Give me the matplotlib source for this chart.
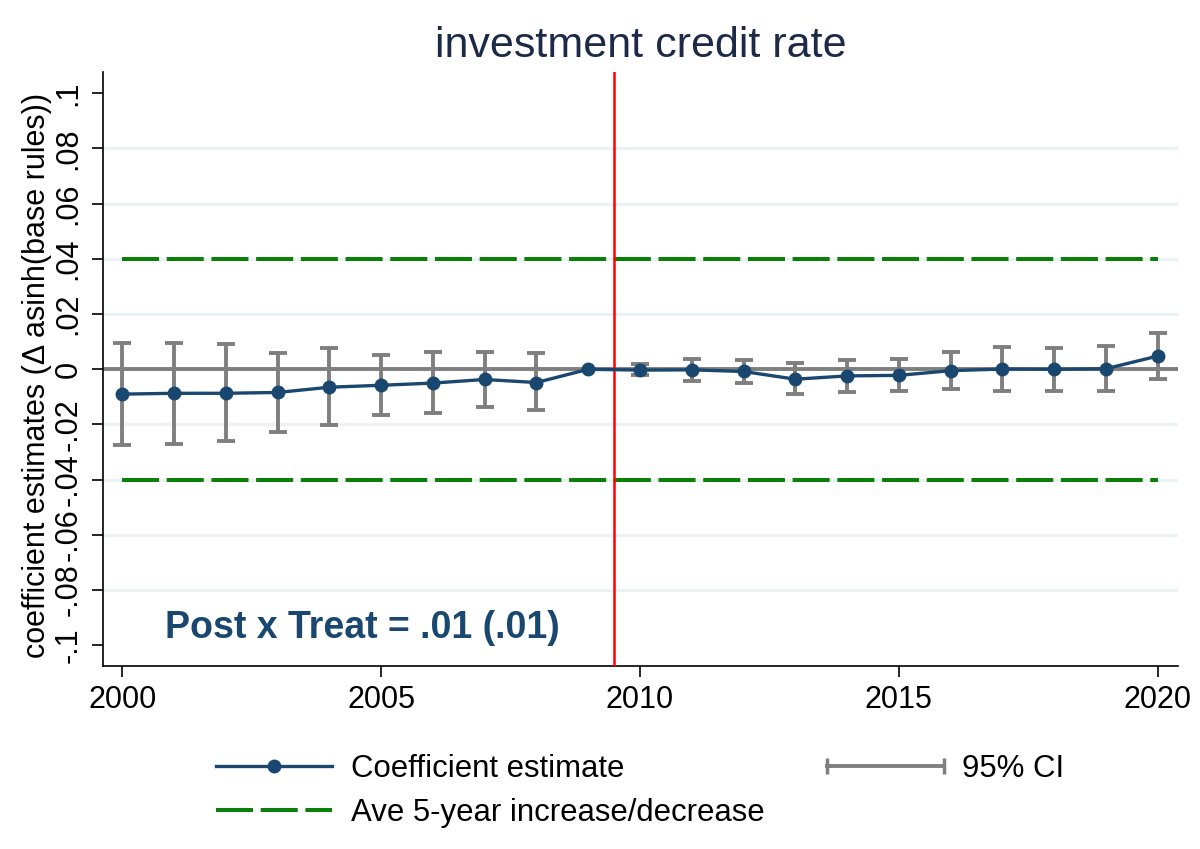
import matplotlib
matplotlib.use('Agg')
import matplotlib.pyplot as plt
from matplotlib.lines import Line2D
from matplotlib.legend_handler import HandlerLine2D
import numpy as np

plt.rcParams['font.family'] = ['Liberation Sans', 'DejaVu Sans']

years = np.arange(2000, 2021)
coef = np.array([-0.0090, -0.0087, -0.0087, -0.0084, -0.0065, -0.0058, -0.0050,
                 -0.0037, -0.0048, 0.0000, -0.0003, -0.0002, -0.0008, -0.0036,
                 -0.0024, -0.0022, -0.0005, 0.0001, 0.0000, 0.0002, 0.0048])
ci_lo = np.array([-0.0273, -0.0269, -0.0260, -0.0226, -0.0203, -0.0166, -0.0158,
                  -0.0136, -0.0148, np.nan, -0.0022, -0.0042, -0.0050, -0.0091,
                  -0.0084, -0.0079, -0.0071, -0.0079, -0.0079, -0.0079, -0.0036])
ci_hi = np.array([0.0096, 0.0096, 0.0092, 0.0060, 0.0076, 0.0052, 0.0062,
                  0.0062, 0.0058, np.nan, 0.0018, 0.0039, 0.0033, 0.0024,
                  0.0035, 0.0037, 0.0062, 0.0080, 0.0078, 0.0086, 0.0133])
band = 0.04          # ave 5-year increase/decrease
treat_year = 2009.5  # policy line
yticks = np.round(np.arange(-0.1, 0.1001, 0.02), 2)
xticks = [2000, 2005, 2010, 2015, 2020]

navy = '#1a476f'
gray = '#7f7f7f'
green = '#0a7f0a'
grid_c = '#eaf2f3'

fig = plt.figure(figsize=(12, 8.49), dpi=100)
ax = fig.add_axes([103/1200, 1 - 666/849, (1178 - 103)/1200, (666 - 72)/849])

# grid at interior ticks only
ax.hlines(yticks[1:-1], 1999.6, 2020.4, color=grid_c, lw=2.2, zorder=0)
ax.axhline(0, color=gray, lw=2.8, zorder=1)
ax.hlines([-band, band], years[0], years[-1], color=green, lw=2.9,
          linestyles=(0, (9.2, 1.9)), zorder=2)
ax.axvline(treat_year, color='red', lw=1.8, zorder=3)

ok = ~np.isnan(ci_lo)
ax.errorbar(years[ok], coef[ok], yerr=[coef[ok] - ci_lo[ok], ci_hi[ok] - coef[ok]],
            fmt='none', ecolor=gray, elinewidth=2.8, capsize=6.2, capthick=2.8, zorder=4)
ax.plot(years, coef, color=navy, lw=2.4, marker='o', ms=9, zorder=5)

ax.text(2000.82, -0.0975, 'Post x Treat = .01 (.01)', color=navy,
        fontsize=27, fontweight='bold', va='baseline', ha='left')

ax.set_xlim(1999.63, 2020.39)
ax.set_ylim(-0.1075, 0.1077)
ax.set_xticks(xticks)
ax.set_yticks(yticks)
ax.set_yticklabels([('%g' % v).replace('0.', '.') for v in yticks],
                   rotation=90, va='center')
ax.tick_params(axis='both', labelsize=22, length=8, width=1.2, pad=6)
for s in ['top', 'right']:
    ax.spines[s].set_visible(False)
for s in ['left', 'bottom']:
    ax.spines[s].set_linewidth(1.2)

ax.set_ylabel('coefficient estimates (\u0394 asinh(base rules))', fontsize=22)
ax.yaxis.set_label_coords(-0.047, 0.49)
ax.set_title('investment credit rate', fontsize=31, color='#1c2a48', pad=11)

h_coef = Line2D([], [], color=navy, lw=2.4, marker='o', ms=9)
h_band = Line2D([], [], color=green, lw=2.9, linestyle=(0, (9.2, 1.9)))
h_ci = Line2D([], [], color=gray, lw=2.8, marker='|', ms=12, mew=2.5)
fig.legend([h_coef, h_band, h_ci],
           ['Coefficient estimate', 'Ave 5-year increase/decrease', '95% CI'],
           loc='upper center', bbox_to_anchor=(640/1200, 1 - 754/849), ncol=2,
           frameon=False, fontsize=22.4, handlelength=3.75, handletextpad=0.6,
           columnspacing=2.0, labelspacing=0.45, borderpad=0, borderaxespad=0,
           handler_map={h_ci: HandlerLine2D(numpoints=2, marker_pad=0)})

fig.savefig('out.png', dpi=100)
